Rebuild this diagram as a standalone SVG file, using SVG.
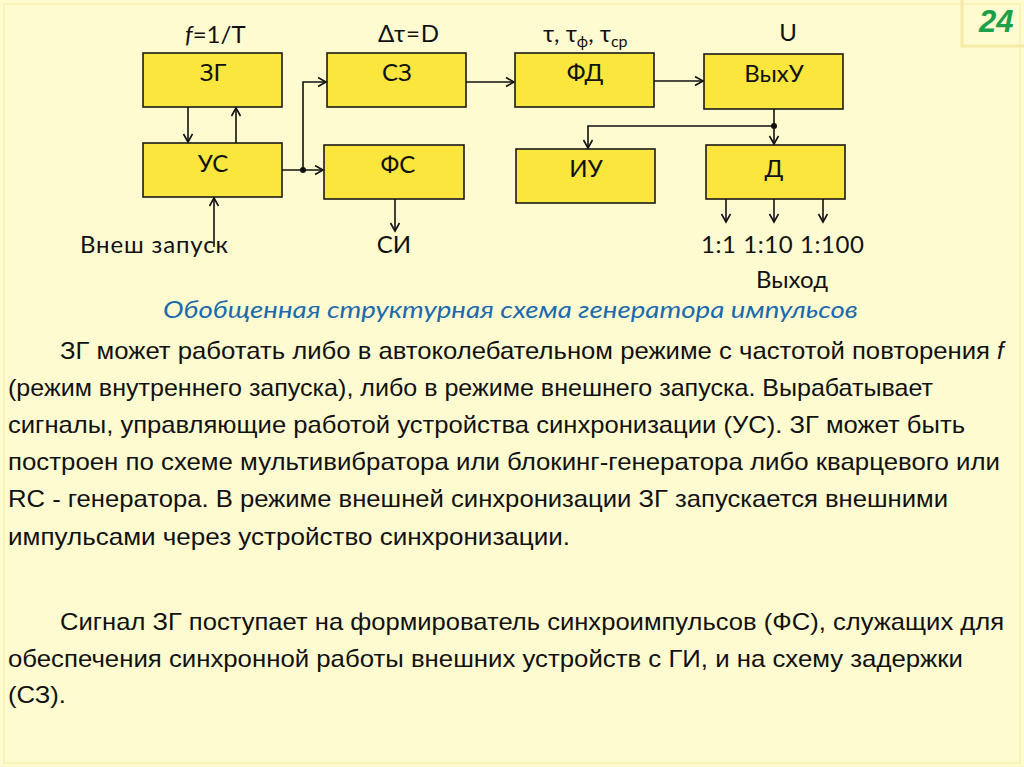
<svg xmlns="http://www.w3.org/2000/svg" width="1024" height="767" viewBox="0 0 1024 767">
<style>
.box{fill:#FAE63C;stroke:#1a1a1a;stroke-width:1.6}
.lbl{font-family:Lato,"Liberation Sans",sans-serif;font-size:24px;fill:#111;text-anchor:middle}
.dt{font-family:Lato,"Liberation Sans",sans-serif;font-size:24px;fill:#111}
.ln{fill:none;stroke:#111;stroke-width:1.6}
.para{font-family:"Liberation Sans",Arial,sans-serif;font-size:24px;fill:#111}
.cap{font-family:Lato,"Liberation Sans",sans-serif;font-style:italic;font-size:23px;fill:#1B69AE}
</style>
<defs>
<marker id="ah" markerUnits="userSpaceOnUse" markerWidth="12" markerHeight="12" refX="9" refY="5" orient="auto">
<path d="M1,0.5 L9,5 L1,9.5" fill="none" stroke="#111" stroke-width="1.6"/>
</marker>
</defs>
<rect x="0" y="0" width="1024" height="767" fill="#FFFBD0"/>
<rect x="4" y="4" width="1016" height="759" fill="none" stroke="#FBF2B8" stroke-width="2"/>
<g id="pagenum">
<rect x="962" y="-3" width="70" height="49" fill="none" stroke="#F4EBA6" stroke-width="3"/>
<text x="979" y="32" font-family="'Liberation Sans',Arial,sans-serif" font-size="31" font-weight="bold" font-style="italic" fill="#1BA048">24</text>
</g>
<g id="labels-top">
<text class="dt" x="185" y="43"><tspan font-style="italic">f</tspan>=1/T</text>
<text class="dt" x="378" y="42" textLength="61">Δτ=D</text>
<text class="dt" x="543" y="42">τ, τ<tspan font-size="16" dy="5">ф</tspan><tspan dy="-5">, τ</tspan><tspan font-size="16" dy="5">ср</tspan></text>
<text class="dt" x="788" y="41" text-anchor="middle">U</text>
</g>
<g id="n-zg"><rect class="box" x="143" y="53" width="139" height="54"/><text class="lbl" x="213" y="81">ЗГ</text></g>
<g id="n-us"><rect class="box" x="143" y="143" width="139" height="54"/><text class="lbl" x="213" y="172">УС</text></g>
<g id="n-sz"><rect class="box" x="327" y="53" width="139" height="54"/><text class="lbl" x="397" y="81">СЗ</text></g>
<g id="n-fs"><rect class="box" x="324" y="145" width="140" height="54"/><text class="lbl" x="398" y="173">ФС</text></g>
<g id="n-fd"><rect class="box" x="515" y="53" width="139" height="54"/><text class="lbl" x="585" y="81">ФД</text></g>
<g id="n-iu"><rect class="box" x="516" y="149" width="139" height="54"/><text class="lbl" x="586" y="177">ИУ</text></g>
<g id="n-vyhu"><rect class="box" x="704" y="54" width="139" height="55"/><text class="lbl" x="774" y="82">ВыхУ</text></g>
<g id="n-d"><rect class="box" x="706" y="145" width="139" height="54"/><text class="lbl" x="774" y="177">Д</text></g>
<g id="connectors">
<line class="ln" x1="188" y1="107" x2="188" y2="142" marker-end="url(#ah)"/>
<line class="ln" x1="236" y1="143" x2="236" y2="108" marker-end="url(#ah)"/>
<line class="ln" x1="282" y1="170" x2="323" y2="170" marker-end="url(#ah)"/>
<polyline class="ln" points="303,170 303,82 326,82" marker-end="url(#ah)"/>
<circle cx="303" cy="170" r="3" fill="#111"/>
<line class="ln" x1="466" y1="82" x2="514" y2="82" marker-end="url(#ah)"/>
<line class="ln" x1="654" y1="81" x2="703" y2="81" marker-end="url(#ah)"/>
<line class="ln" x1="774" y1="109" x2="774" y2="144" marker-end="url(#ah)"/>
<circle cx="774" cy="126" r="3" fill="#111"/>
<polyline class="ln" points="774,126 588,126 588,148" marker-end="url(#ah)"/>
<line class="ln" x1="726" y1="199" x2="726" y2="222" marker-end="url(#ah)"/>
<line class="ln" x1="774" y1="199" x2="774" y2="222" marker-end="url(#ah)"/>
<line class="ln" x1="823" y1="199" x2="823" y2="222" marker-end="url(#ah)"/>
<line class="ln" x1="214" y1="247" x2="214" y2="198" marker-end="url(#ah)"/>
<line class="ln" x1="395" y1="199" x2="395" y2="231" marker-end="url(#ah)"/>
</g>
<g id="labels-bottom">
<text class="dt" x="80" y="253" textLength="148">Внеш запуск</text>
<text class="dt" x="394" y="253" text-anchor="middle">СИ</text>
<text class="dt" x="701" y="253" textLength="163">1:1 1:10 1:100</text>
<text class="dt" x="792" y="288" text-anchor="middle">Выход</text>
</g>
<text class="cap" x="163" y="318" textLength="695" lengthAdjust="spacingAndGlyphs">Обобщенная структурная схема генератора импульсов</text>
<g id="para1">
<text class="para" x="60" y="359" textLength="930" lengthAdjust="spacingAndGlyphs">ЗГ может работать либо в автоколебательном режиме с частотой повторения</text>
<text class="para" x="997" y="359" font-style="italic">f</text>
<text class="para" x="8" y="396" textLength="925" lengthAdjust="spacingAndGlyphs">(режим внутреннего запуска), либо в режиме внешнего запуска. Вырабатывает</text>
<text class="para" x="8" y="433" textLength="957" lengthAdjust="spacingAndGlyphs">сигналы, управляющие работой устройства синхронизации (УС). ЗГ может быть</text>
<text class="para" x="8" y="470" textLength="992" lengthAdjust="spacingAndGlyphs">построен по схеме мультивибратора или блокинг-генератора либо кварцевого или</text>
<text class="para" x="8" y="507" textLength="940" lengthAdjust="spacingAndGlyphs">RC - генератора. В режиме внешней синхронизации ЗГ запускается внешними</text>
<text class="para" x="8" y="545" textLength="562" lengthAdjust="spacingAndGlyphs">импульсами через устройство синхронизации.</text>
</g>
<g id="para2">
<text class="para" x="60" y="630" textLength="944" lengthAdjust="spacingAndGlyphs">Сигнал ЗГ поступает на формирователь синхроимпульсов (ФС), служащих для</text>
<text class="para" x="8" y="667" textLength="955" lengthAdjust="spacingAndGlyphs">обеспечения синхронной работы внешних устройств с ГИ, и на схему задержки</text>
<text class="para" x="8" y="703" textLength="58" lengthAdjust="spacingAndGlyphs">(СЗ).</text>
</g>
</svg>
